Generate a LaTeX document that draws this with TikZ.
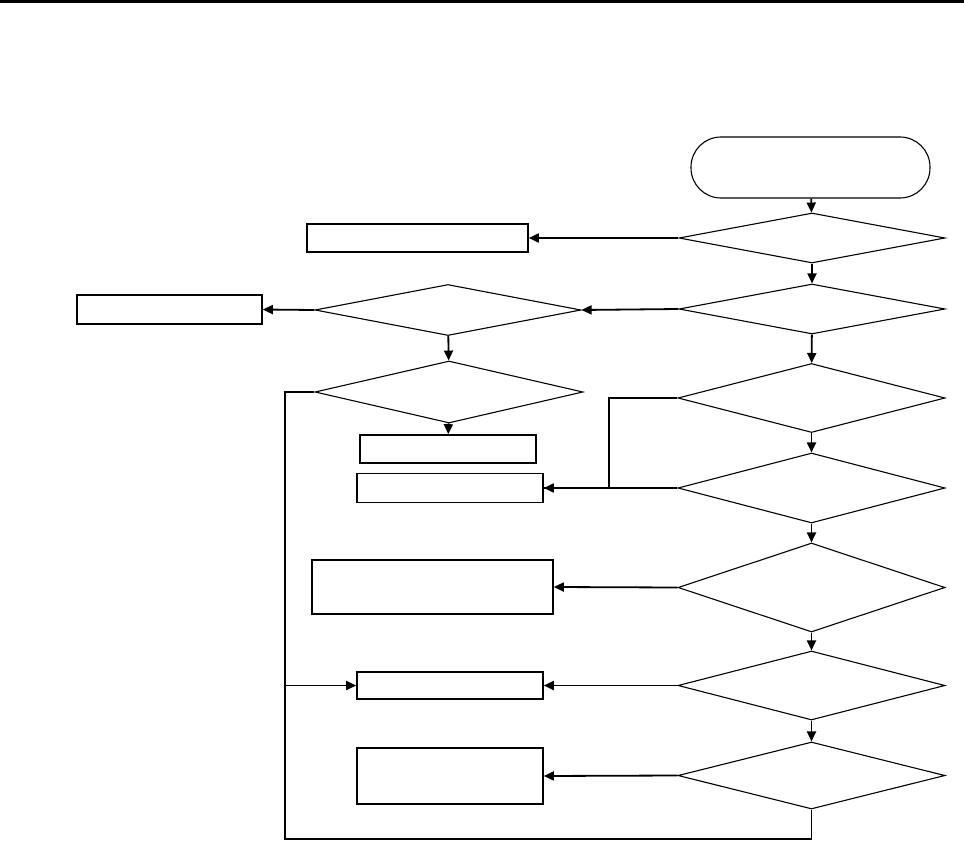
\documentclass[tikz,border=0pt]{standalone}
\usepackage{tikz}
\usetikzlibrary{positioning, arrows.meta, shapes.geometric}

\begin{document}
\begin{tikzpicture}[
    x=1pt, y=-1pt,
    rbox/.style={draw, line width=1.6pt, inner sep=0pt},
    dbox/.style={draw, diamond, line width=1.1pt, inner sep=0pt},
    tbox/.style={draw, line width=1.1pt, rounded corners=30pt, inner sep=0pt, minimum width=239pt, minimum height=61pt},
    flow/.style={line width=1.8pt, -{Triangle[length=10pt, width=9pt]}},
    line/.style={line width=1.8pt}
]
\useasboundingbox (0,0) rectangle (964,848);
\fill (0,0) rectangle (964,3);

% right column
\node[tbox] (start) at (810.5,167.5) {};
\node[dbox, minimum width=266pt, minimum height=50pt] (chk1) at (812,238) {};
\node[dbox, minimum width=266pt, minimum height=50pt] (chk2) at (812,309) {};
\node[dbox, minimum width=267pt, minimum height=69pt] (chk3) at (811.5,398) {};
\node[dbox, minimum width=267pt, minimum height=70pt] (chk4) at (811.5,488) {};
\node[dbox, minimum width=267pt, minimum height=89pt] (chk5) at (811.5,587.5) {};
\node[dbox, minimum width=267pt, minimum height=69pt] (chk6) at (811.5,685.5) {};
\node[dbox, minimum width=267pt, minimum height=67pt] (chk7) at (811.5,775.5) {};

% middle column
\node[dbox, minimum width=266pt, minimum height=51pt] (sub1) at (448,310) {};
\node[dbox, minimum width=268pt, minimum height=62pt] (sub2) at (449,392) {};

% result boxes
\node[rbox, minimum width=221pt, minimum height=28pt] (res1) at (417.5,238) {};
\node[rbox, minimum width=185pt, minimum height=29pt] (res2) at (169.5,309.5) {};
\node[rbox, minimum width=176pt, minimum height=28pt] (res3) at (448,449) {};
\node[rbox, minimum width=186pt, minimum height=29pt] (res4) at (450,488) {};
\node[rbox, minimum width=241pt, minimum height=54pt] (res5) at (432.5,587) {};
\node[rbox, minimum width=186pt, minimum height=27pt] (res6) at (450,685.5) {};
\node[rbox, minimum width=186pt, minimum height=56pt] (res7) at (450,776) {};

\coordinate (join) at (609,398);
\coordinate (loopA) at (285,392);
\coordinate (loopB) at (285,839);

\draw[flow] (start) -- (chk1);
\draw[flow] (chk1) -- (chk2);
\draw[flow] (chk2) -- (chk3);
\draw[flow] (chk3) -- (chk4);
\draw[flow] (chk4) -- (chk5);
\draw[flow] (chk5) -- (chk6);
\draw[flow] (chk6) -- (chk7);

\draw[flow] (chk1.west) -- (res1.east);
\draw[flow] (chk2.west) -- (sub1.east);
\draw[flow] (sub1.west) -- (res2.east);
\draw[flow] (sub1) -- (sub2);
\draw[flow] (sub2) -- (res3);
\draw[line] (chk3.west) -- (join) |- (res4.east);
\draw[flow] (chk4.west) -- (res4.east);
\draw[flow] (chk5.west) -- (res5.east);
\draw[flow] (chk6.west) -- (res6.east);
\draw[flow] (chk7.west) -- (res7.east);
\draw[flow] (sub2.west) -- (loopA) |- (res6.west);
\draw[line] (chk7.south) |- (loopB) -- (loopB |- res6.west);
\end{tikzpicture}
\end{document}
